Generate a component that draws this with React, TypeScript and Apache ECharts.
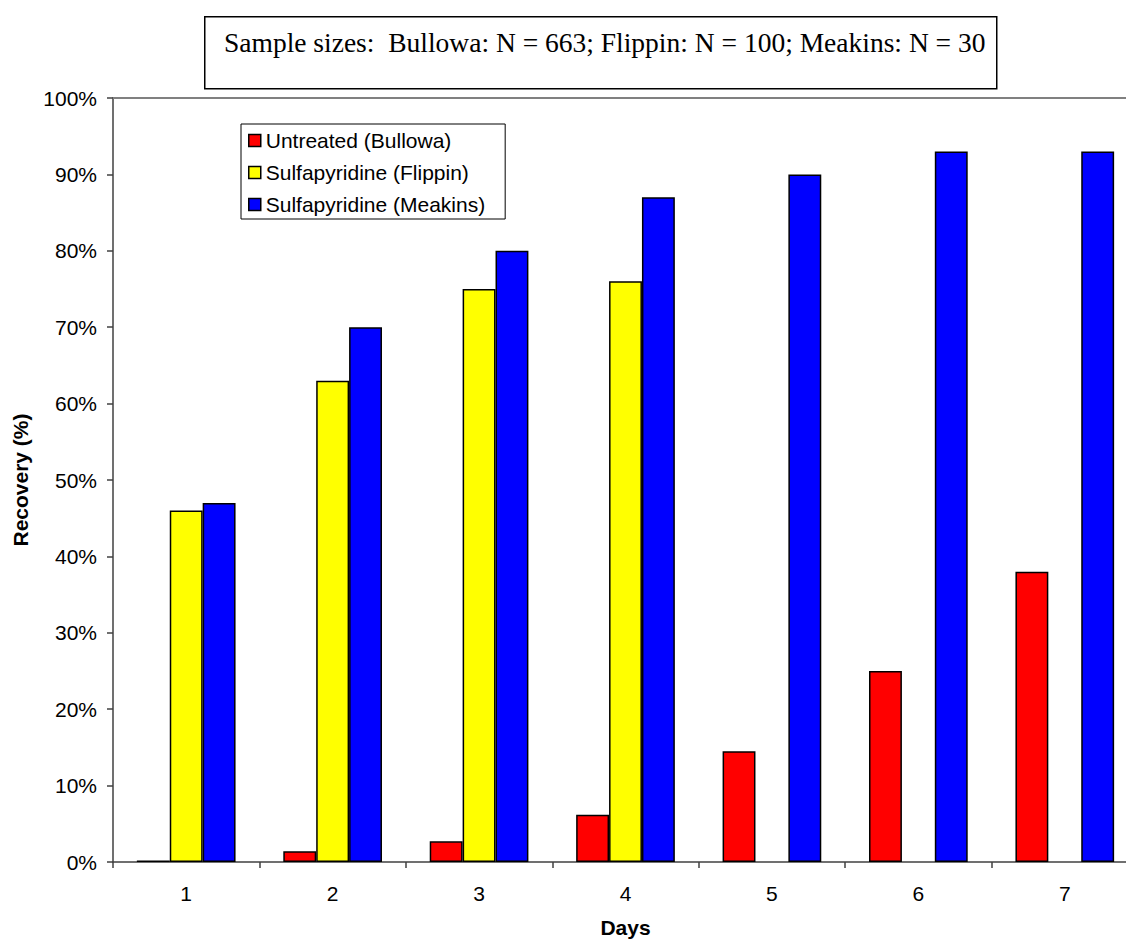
import React, { useEffect, useRef } from "react";
import * as echarts from "echarts";

const days = ["1", "2", "3", "4", "5", "6", "7"];
const untreatedBullowa = [0.2, 1.4, 2.7, 6.2, 14.5, 25, 38];
const sulfaFlippin: (number | null)[] = [46, 63, 75, 76, null, null, null];
const sulfaMeakins = [47, 70, 80, 87, 90, 93, 93];
const seriesNames = ["Untreated (Bullowa)", "Sulfapyridine (Flippin)", "Sulfapyridine (Meakins)"];
const seriesColors = ["#FF0000", "#FFFF00", "#0000FF"];
const titleText = "Sample sizes:  Bullowa: N = 663; Flippin: N = 100; Meakins: N = 30";

export default function App() {
  const ref = useRef<HTMLDivElement>(null);
  useEffect(() => {
    if (!ref.current) return;
    const chart = echarts.init(ref.current, undefined, { renderer: "svg" });
    const barStyle = (c: string) => ({ color: c, borderColor: "#000", borderWidth: 1.5 });
    const datasets = [untreatedBullowa, sulfaFlippin, sulfaMeakins];
    const font = "Arial, 'Liberation Sans', sans-serif";
    chart.setOption({
      animation: false,
      backgroundColor: "#fff",
      textStyle: { fontFamily: font },
      grid: { left: 113, width: 1025, top: 98, bottom: 77, containLabel: false, outerBoundsMode: "none" },
      graphic: [
        {
          type: "rect",
          left: 204,
          top: 16,
          shape: { width: 792, height: 72 },
          style: { fill: "#fff", stroke: "#000", lineWidth: 1.5 },
        },
        {
          type: "text",
          left: 224,
          top: 28,
          style: {
            text: titleText,
            fill: "#000",
            font: "27.5px 'Liberation Serif', 'Times New Roman', serif",
          },
        },
      ],
      legend: {
        show: true,
        orient: "vertical",
        left: 241,
        top: 124,
        padding: [6, 20, 4, 7],
        itemWidth: 12,
        itemHeight: 12,
        itemGap: 11,
        borderColor: "#000",
        borderWidth: 1,
        backgroundColor: "#fff",
        icon: "rect",
        textStyle: { fontSize: 21, color: "#000", fontFamily: font, lineHeight: 21 },
        data: seriesNames.map((n, i) => ({ name: n, itemStyle: { color: seriesColors[i], borderColor: "#000", borderWidth: 1.5 } })),
      },
      xAxis: [
        {
          type: "category",
          data: days,
          name: "Days",
          nameLocation: "middle",
          nameGap: 55,
          nameTextStyle: { fontSize: 21, fontWeight: "bold", color: "#000" },
          axisLine: { lineStyle: { color: "#404040", width: 1.5 } },
          axisTick: { show: true, length: 6, lineStyle: { color: "#404040", width: 1.5 } },
          axisLabel: { fontSize: 21, color: "#000", margin: 21 },
        },
        {
          type: "category",
          data: days,
          position: "top",
          axisLine: { lineStyle: { color: "#808080", width: 2 } },
          axisTick: { show: false },
          axisLabel: { show: false },
        },
      ],
      yAxis: {
        type: "value",
        min: 0,
        max: 100,
        interval: 10,
        name: "Recovery (%)",
        nameLocation: "middle",
        nameGap: 82,
        nameTextStyle: { fontSize: 21, fontWeight: "bold", color: "#000" },
        axisLine: { show: true, lineStyle: { color: "#404040", width: 1.5 } },
        axisTick: { show: true, length: 6, lineStyle: { color: "#404040", width: 1.5 } },
        axisLabel: { fontSize: 21, color: "#000", margin: 16, formatter: "{value}%" },
        splitLine: { show: false },
      },
      series: datasets.map((d, i) => ({
        type: "bar",
        name: seriesNames[i],
        data: d,
        xAxisIndex: 0,
        barGap: "0%",
        barCategoryGap: "32.6%",
        itemStyle: barStyle(seriesColors[i]),
      })),
    });
    return () => chart.dispose();
  }, []);
  return (
    <div
      ref={ref}
      style={{ position: "fixed", left: 0, top: 0, width: 1126, height: 939, background: "#fff" }}
    />
  );
}
